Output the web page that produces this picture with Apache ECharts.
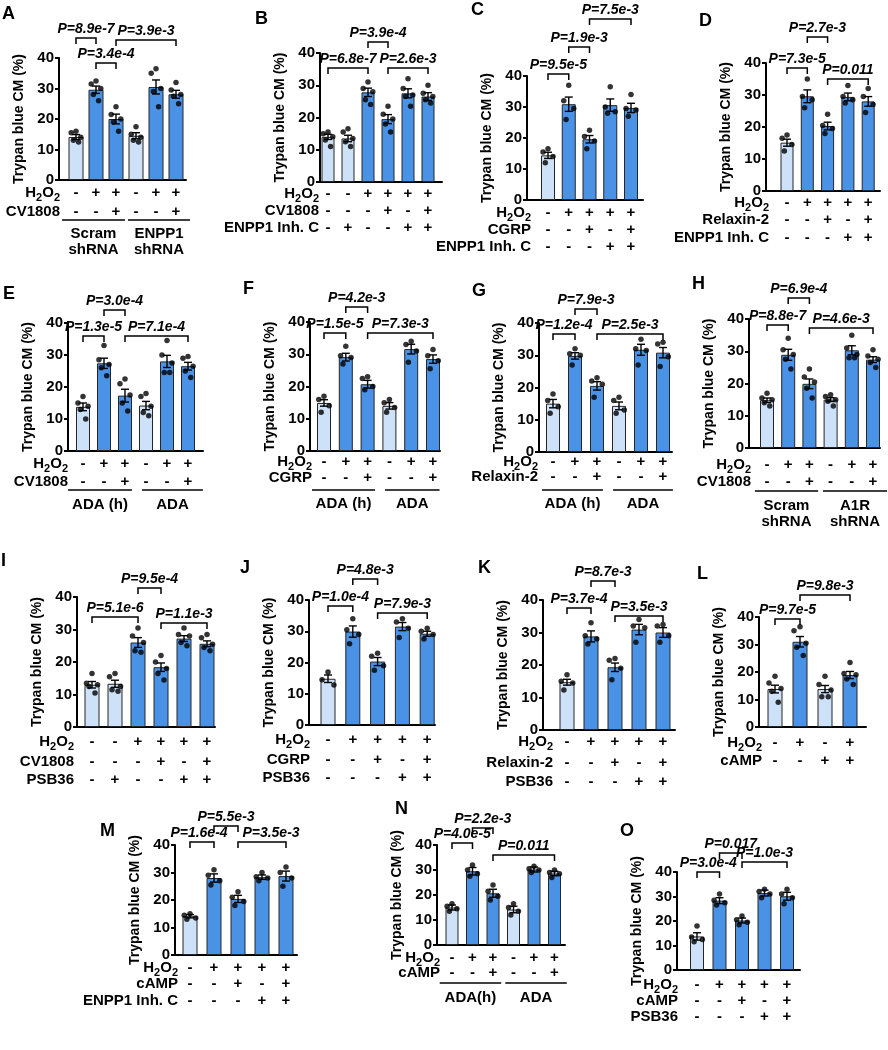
<!DOCTYPE html>
<html><head><meta charset="utf-8">
<script src="https://cdn.jsdelivr.net/npm/echarts@6/dist/echarts.min.js"></script>
<style>html,body{margin:0;padding:0;background:#fff}#c{width:888px;height:1050px}</style>
</head><body><div id="c"></div>
<script>
// ---------------- DATA ----------------
const meanA = [14.1, 29.6, 20.0, 14.5, 30.5, 28.1];
const semA = [0.8, 1.2, 1.6, 1.0, 2.3, 1.3];
const dotsA = [[16,15.5,14,13,12.5],[32.5,31.5,30,28,26],[24,21.5,20,19,16],[17.5,15,14,13,12.5],[36.5,35,30,29,24],[32,29.5,28,27.5,25]];
const rowNamesA = ['H2O2','CV1808'];
const rowsA = [['-','+','+','-','+','+'],['-','-','+','-','-','+']];
const brA = [[0,1,'P=8.9e-7'],[1,2,'P=3.4e-4'],[2,5,'P=3.9e-3']];
const groupsA = ['Scram\nshRNA','ENPP1\nshRNA'];

const meanB = [14.0, 13.5, 27.8, 19.5, 27.5, 26.5];
const semB = [0.8, 1.0, 1.3, 1.4, 1.4, 1.2];
const dotsB = [[15.5,15,14,13,11],[16.5,15.5,13.5,12.5,11],[31,29,28,25.5,24],[23.5,21,19.5,18,15.5],[32,29,27,26.5,23.5],[30,27.5,26.5,25.5,24.5]];
const rowNamesB = ['H2O2','CV1808','ENPP1 Inh. C'];
const rowsB = [['-','-','+','+','+','+'],['-','-','-','+','-','+'],['-','+','-','-','+','+']];
const brB = [[0,2,'P=6.8e-7'],[2,3,'P=3.9e-4'],[3,5,'P=2.6e-3']];

const meanC = [14.4, 30.9, 19.6, 30.6, 29.7];
const semC = [1.0, 2.3, 1.2, 2.0, 1.5];
const dotsC = [[16.5,15.5,14,12],[37,32,29.5,26],[22.5,20.5,19,16.5],[36.5,30,28.5,28],[34,29.5,29,27]];
const rowNamesC = ['H2O2','CGRP','ENPP1 Inh. C'];
const rowsC = [['-','+','+','+','+'],['-','-','+','-','+'],['-','-','-','+','+']];
const brC = [[0,1,'P=9.5e-5'],[1,2,'P=1.9e-3'],[2,4,'P=7.5e-3']];

const meanD = [15.1, 29.6, 20.3, 29.4, 28.0];
const semD = [1.1, 2.0, 1.2, 1.2, 1.5];
const dotsD = [[17.5,16.5,14.5,12.5],[35,29.5,28.5,26],[24,20.5,19.5,18],[33,29.5,28.5,27.5],[32,29.5,27,24.5]];
const rowNamesD = ['H2O2','Relaxin-2','ENPP1 Inh. C'];
const rowsD = [['-','+','+','+','+'],['-','-','+','-','+'],['-','-','-','+','+']];
const brD = [[0,1,'P=7.3e-5'],[1,2,'P=2.7e-3'],[2,4,'P=0.011']];

const meanE = [13.8, 27.4, 17.3, 14.2, 28.0, 26.5];
const semE = [1.2, 1.6, 2.0, 1.3, 1.9, 1.2];
const dotsE = [[17,15,14,13,10],[33,28.5,27,26,23.5],[22.5,21,17.5,15,12.5],[18,17,14,12,11],[34.5,30,27.5,24.5,24.5],[29.5,29,26.5,25,23]];
const rowNamesE = ['H2O2','CV1808'];
const rowsE = [['-','+','+','-','+','+'],['-','-','+','-','-','+']];
const brE = [[0,1,'P=1.3e-5'],[1,2,'P=3.0e-4'],[2,5,'P=7.1e-4']];
const groupsE = ['ADA (h)','ADA'];

const meanF = [14.9, 29.1, 20.7, 14.0, 31.6, 28.5];
const semF = [1.0, 1.2, 1.2, 1.0, 1.5, 1.3];
const dotsF = [[17,16,14,12],[32.5,29.5,29,27],[23,22.5,20,19],[16,15,13.5,12],[34,33,31,27.5],[31.5,29.5,28,25.5]];
const rowNamesF = ['H2O2','CGRP'];
const rowsF = [['-','+','+','-','+','+'],['-','-','+','-','-','+']];
const brF = [[0,1,'P=1.5e-5'],[1,2,'P=4.2e-3'],[2,5,'P=7.3e-3']];
const groupsF = ['ADA (h)','ADA'];

const meanG = [15.0, 29.8, 20.5, 14.3, 31.7, 30.8];
const semG = [1.3, 1.0, 1.3, 1.2, 1.7, 1.6];
const dotsG = [[18,16,14,12],[32,30.5,30,27],[23,22,21,17],[17,16,13,12],[35,32,31.5,27],[34,33.5,29.5,26.5]];
const rowNamesG = ['H2O2','Relaxin-2'];
const rowsG = [['-','+','+','-','+','+'],['-','-','+','-','-','+']];
const brG = [[0,1,'P=1.2e-4'],[1,2,'P=7.9e-3'],[2,5,'P=2.5e-3']];
const groupsG = ['ADA (h)','ADA'];

const meanH = [14.8, 28.9, 19.9, 15.0, 30.3, 27.4];
const semH = [0.7, 1.7, 1.5, 0.6, 1.4, 0.9];
const dotsH = [[17,15.5,15,14,13],[34,30.5,29,27.5,24.5],[24.5,22,20.5,18.5,15.5],[16.5,16,15,14.5,13],[35,31,29,28,28],[30.5,28.5,27.5,26.5,25]];
const rowNamesH = ['H2O2','CV1808'];
const rowsH = [['-','+','+','-','+','+'],['-','-','+','-','-','+']];
const brH = [[0,1,'P=8.8e-7'],[1,2,'P=6.9e-4'],[2,5,'P=4.6e-3']];
const groupsH = ['Scram\nshRNA','A1R\nshRNA'];

const meanI = [13.0, 13.3, 26.0, 18.4, 27.2, 25.6];
const semI = [1.0, 1.1, 1.5, 1.3, 0.9, 0.9];
const dotsI = [[16.5,13.5,13,12.5,10.5],[16.5,15.5,12.5,11.5,11],[30.5,28,26,23.5,23],[22,20,18,16.5,14.5],[30.5,28.5,28,26,25],[28.5,27.5,25.5,24.5,23.5]];
const rowNamesI = ['H2O2','CV1808','PSB36'];
const rowsI = [['-','-','+','+','+','+'],['-','-','-','+','-','+'],['-','+','-','-','+','+']];
const brI = [[0,2,'P=5.1e-6'],[2,3,'P=9.5e-4'],[3,5,'P=1.1e-3']];

const meanJ = [14.8, 29.9, 20.3, 31.5, 29.2];
const semJ = [1.2, 1.8, 1.3, 1.3, 0.8];
const dotsJ = [[17,14.5,12.8],[34,30.5,29,26],[23,22,19,17.5],[34,33,31,28],[31,30,29,27.5]];
const rowNamesJ = ['H2O2','CGRP','PSB36'];
const rowsJ = [['-','+','+','+','+'],['-','-','+','-','+'],['-','-','-','+','+']];
const brJ = [[0,1,'P=1.0e-4'],[1,2,'P=4.8e-3'],[2,4,'P=7.9e-3']];

const meanK = [14.7, 28.8, 19.3, 30.9, 30.0];
const semK = [0.9, 1.7, 1.3, 1.6, 1.5];
const dotsK = [[17,15,14.5,12.3],[33,29,28,26.5],[22,21.5,19,15.5],[34,32,31.5,27],[32.5,32,29,27]];
const rowNamesK = ['H2O2','Relaxin-2','PSB36'];
const rowsK = [['-','+','+','+','+'],['-','-','+','-','+'],['-','-','-','+','+']];
const brK = [[0,1,'P=3.7e-4'],[1,2,'P=8.7e-3'],[2,4,'P=3.5e-3']];

const meanL = [13.8, 31.0, 13.8, 18.9];
const semL = [1.4, 1.9, 1.3, 1.3];
const dotsL = [[18.5,16,14,13,9],[36.5,35,30.5,29,26],[18.5,15.5,13.5,11,11],[23.5,19.5,19,17.5,15.5]];
const rowNamesL = ['H2O2','cAMP'];
const rowsL = [['-','+','-','+'],['-','-','+','+']];
const brL = [[0,1,'P=9.7e-5'],[1,3,'P=9.8e-3']];

const meanM = [14.1, 28.0, 20.4, 28.3, 28.7];
const semM = [0.6, 1.5, 1.3, 0.8, 1.8];
const dotsM = [[15,14.5,13.5,13],[31,29,27,25.5],[23,21,19.5,18],[30,28.5,28,27],[32,30,28,25]];
const rowNamesM = ['H2O2','cAMP','ENPP1 Inh. C'];
const rowsM = [['-','+','+','+','+'],['-','-','+','-','+'],['-','-','-','+','+']];
const brM = [[0,1,'P=1.6e-4'],[1,2,'P=5.5e-3'],[2,4,'P=3.5e-3']];

const meanN = [15.0, 29.5, 20.7, 14.2, 30.2, 28.6];
const semN = [1.0, 1.5, 1.6, 1.3, 1.0, 0.9];
const dotsN = [[16.5,15.5,14.5,13.5],[32,30,28.5,27.5],[24,21.5,19.5,18],[16.5,15,13.5,12],[31.5,30.5,30,29],[30,29,28.5,27]];
const rowNamesN = ['H2O2','cAMP'];
const rowsN = [['-','+','+','-','+','+'],['-','-','+','-','-','+']];
const brN = [[0,1,'P=4.0e-5'],[1,2,'P=2.2e-3'],[2,5,'P=0.011']];
const groupsN = ['ADA(h)','ADA'];

const meanO = [13.7, 28.3, 20.2, 31.4, 30.1];
const semO = [1.5, 1.2, 1.0, 1.2, 1.6];
const dotsO = [[18,13.5,12.5,11.5],[31,28.5,27.5,26.5],[22,20.5,19.5,18.5],[33,32,31,29.5],[33,31,29.5,27]];
const rowNamesO = ['H2O2','cAMP','PSB36'];
const rowsO = [['-','+','+','+','+'],['-','-','+','-','+'],['-','-','-','+','+']];
const brO = [[0,1,'P=3.0e-4'],[1,2,'P=0.017'],[2,4,'P=1.0e-3']];

// ---------------- LAYOUT (pixels) ----------------
const layA = {x0:59,x1:186,c0:76,step:20,y40:58,y0:180,bw:15,letter:[2,5],rowY:[193,212],labelR:60,brY:[38,63,40],grpY:220,grpExt:[[-0.7,2.45],[2.6,5.7]],grpLabelY:226};
const layB = {x0:320,x1:442,c0:328,step:20,y40:53,y0:182,bw:13,letter:[255,10],rowY:[194,211,228],labelR:319,brY:[68,42,68]};
const layC = {x0:527,x1:643,c0:548,step:20.75,y40:76,y0:200,bw:14,letter:[471,1],rowY:[213,230,247],labelR:531,brY:[74,47,19]};
const layD = {x0:766,x1:880,c0:787,step:20.3,y40:63,y0:191,bw:13,letter:[699,12],rowY:[203,220,238],labelR:769,brY:[68,37,79]};
const layE = {x0:68,x1:203,c0:83,step:21,y40:323,y0:451,bw:14,letter:[3,285],rowY:[464,482],labelR:68,brY:[336,310,336],grpY:490,grpExt:[[-0.71,2.33],[2.81,5.71]],grpLabelY:497};
const layF = {x0:310,x1:440,c0:324,step:21.8,y40:322,y0:451,bw:14,letter:[243,280],rowY:[462,478],labelR:312,brY:[333,307,333],grpY:490,grpExt:[[-0.55,2.34],[2.8,5.3]],grpLabelY:496};
const layG = {x0:539,x1:672,c0:553,step:22,y40:323,y0:452,bw:14,letter:[472,282],rowY:[462,477],labelR:538,brY:[334,309,334],grpY:490,grpExt:[[-0.5,2.27],[2.73,5.45]],grpLabelY:496};
const layH = {x0:749,x1:880,c0:767,step:21.2,y40:319,y0:448,bw:14,letter:[692,275],rowY:[465,482],labelR:751,brY:[325,298,328],grpY:491,grpExt:[[-0.57,2.41],[2.64,5.66]],grpLabelY:498};
const layI = {x0:77,x1:215,c0:92,step:23,y40:597,y0:727,bw:15,letter:[1,552],rowY:[742,762,780],labelR:74,brY:[617,588,623]};
const layJ = {x0:309,x1:435,c0:328,step:24.8,y40:600,y0:725,bw:15,letter:[240,559],rowY:[740,760,778],labelR:310,brY:[606,579,613]};
const layK = {x0:543,x1:675,c0:567,step:24,y40:600,y0:730,bw:15,letter:[478,559],rowY:[742,763,782],labelR:553,brY:[608,581,616]};
const layL = {x0:759,x1:866,c0:775,step:25,y40:617,y0:727,bw:15,letter:[697,565],rowY:[743,761],labelR:762,brY:[619,595]};
const layM = {x0:175,x1:297,c0:190,step:24,y40:845,y0:955,bw:15,letter:[100,822],rowY:[968,984,1001],labelR:178,brY:[842,826,842],brDx:[-3,0,9]};
const layN = {x0:437,x1:565,c0:452,step:20.5,y40:845,y0:945,bw:13,letter:[395,800],rowY:[958,973],labelR:440,brY:[843,828,855],grpY:983,grpExt:[[-0.6,2.4],[2.6,5.6]],grpLabelY:990};
const layO = {x0:677,x1:800,c0:697,step:22.5,y40:872,y0:970,bw:14,letter:[620,822],rowY:[985,1001,1017],labelR:678,brY:[872,853,862]};

const panels = [
  {id:'A',mean:meanA,sem:semA,dots:dotsA,rowNames:rowNamesA,rows:rowsA,br:brA,groups:groupsA,L:layA},
  {id:'B',mean:meanB,sem:semB,dots:dotsB,rowNames:rowNamesB,rows:rowsB,br:brB,L:layB},
  {id:'C',mean:meanC,sem:semC,dots:dotsC,rowNames:rowNamesC,rows:rowsC,br:brC,L:layC},
  {id:'D',mean:meanD,sem:semD,dots:dotsD,rowNames:rowNamesD,rows:rowsD,br:brD,L:layD},
  {id:'E',mean:meanE,sem:semE,dots:dotsE,rowNames:rowNamesE,rows:rowsE,br:brE,groups:groupsE,L:layE},
  {id:'F',mean:meanF,sem:semF,dots:dotsF,rowNames:rowNamesF,rows:rowsF,br:brF,groups:groupsF,L:layF},
  {id:'G',mean:meanG,sem:semG,dots:dotsG,rowNames:rowNamesG,rows:rowsG,br:brG,groups:groupsG,L:layG},
  {id:'H',mean:meanH,sem:semH,dots:dotsH,rowNames:rowNamesH,rows:rowsH,br:brH,groups:groupsH,L:layH},
  {id:'I',mean:meanI,sem:semI,dots:dotsI,rowNames:rowNamesI,rows:rowsI,br:brI,L:layI},
  {id:'J',mean:meanJ,sem:semJ,dots:dotsJ,rowNames:rowNamesJ,rows:rowsJ,br:brJ,L:layJ},
  {id:'K',mean:meanK,sem:semK,dots:dotsK,rowNames:rowNamesK,rows:rowsK,br:brK,L:layK},
  {id:'L',mean:meanL,sem:semL,dots:dotsL,rowNames:rowNamesL,rows:rowsL,br:brL,L:layL},
  {id:'M',mean:meanM,sem:semM,dots:dotsM,rowNames:rowNamesM,rows:rowsM,br:brM,L:layM},
  {id:'N',mean:meanN,sem:semN,dots:dotsN,rowNames:rowNamesN,rows:rowsN,br:brN,groups:groupsN,L:layN},
  {id:'O',mean:meanO,sem:semO,dots:dotsO,rowNames:rowNamesO,rows:rowsO,br:brO,L:layO}
];

// ---------------- STYLE ----------------
const FONT = '"Liberation Sans", Arial, sans-serif';
const LIGHT = '#cde1f8', DARK = '#4a92e6', EDGE = '#262626';
const JIT = [0, -0.24, 0.24, -0.13, 0.13];
const BIG = 'bold 15px ' + FONT, SMALL = 'bold 11px ' + FONT;
const mctx = document.createElement('canvas').getContext('2d');
function tw(s, font) { mctx.font = font; return mctx.measureText(s).width; }

// "H2O2" with subscripts, right-aligned at xRight
function h2o2(xRight, y) {
  const parts = [['H', BIG, 0], ['2', SMALL, 5], ['O', BIG, 0], ['2', SMALL, 5]];
  const total = parts.reduce((a, p) => a + tw(p[0], p[1]), 0);
  let x = xRight - total;
  const children = parts.map(p => {
    const el = {type:'text', x:x, y:y + p[2], style:{text:p[0], font:p[1], fill:'#000', align:'left', verticalAlign:'middle'}};
    x += tw(p[0], p[1]);
    return el;
  });
  return {type:'group', children:children};
}
function labelText(name, x, y) {
  if (name === 'H2O2') return h2o2(x, y);
  return {type:'text', x:x, y:y, style:{text:name, fill:'#000', font:BIG, align:'right', verticalAlign:'middle'}};
}

const option = {animation:false, backgroundColor:'#fff', title:[], grid:[], xAxis:[], yAxis:[], series:[]};

panels.forEach((p, k) => {
  const L = p.L;
  option.title.push({text:p.id, left:L.letter[0], top:L.letter[1], padding:0,
    textStyle:{fontFamily:FONT, fontWeight:'bold', fontSize:18, color:'#000'}});
  option.grid.push({left:L.x0, top:L.y40, width:L.x1 - L.x0, height:L.y0 - L.y40});
  option.xAxis.push({gridIndex:k, type:'value', min:(L.x0 - L.c0) / L.step, max:(L.x1 - L.c0) / L.step,
    axisLine:{show:true, onZero:false, lineStyle:{color:'#000', width:2}},
    axisTick:{show:false}, axisLabel:{show:false}, splitLine:{show:false}});
  option.yAxis.push({gridIndex:k, type:'value', min:0, max:40, interval:10,
    name:'Trypan blue CM (%)', nameLocation:'middle', nameGap:33,
    nameTextStyle:{fontFamily:FONT, fontWeight:'bold', fontSize:14, color:'#000'},
    axisLine:{show:true, onZero:false, lineStyle:{color:'#000', width:2}},
    axisTick:{show:true, length:4, lineStyle:{color:'#000', width:2}},
    axisLabel:{fontFamily:FONT, fontWeight:'bold', fontSize:15, color:'#000', margin:5},
    splitLine:{show:false}});

  const light = p.rows[0].map(s => s === '-');
  option.series.push({type:'bar', xAxisIndex:k, yAxisIndex:k, barWidth:L.bw, z:2,
    itemStyle:{borderColor:EDGE, borderWidth:1},
    data:p.mean.map((v, i) => ({value:[i, v], itemStyle:{color: light[i] ? LIGHT : DARK}}))});

  // error bars (SEM)
  option.series.push({type:'custom', xAxisIndex:k, yAxisIndex:k, z:3,
    data:p.mean.map((v, i) => [i, v - p.sem[i], v + p.sem[i]]),
    renderItem:(params, api) => {
      const lo = api.coord([api.value(0), api.value(1)]);
      const hi = api.coord([api.value(0), api.value(2)]);
      const w = 4, st = {stroke:'#000', lineWidth:1.4};
      return {type:'group', children:[
        {type:'line', shape:{x1:lo[0], y1:lo[1], x2:hi[0], y2:hi[1]}, style:st},
        {type:'line', shape:{x1:lo[0]-w, y1:lo[1], x2:lo[0]+w, y2:lo[1]}, style:st},
        {type:'line', shape:{x1:hi[0]-w, y1:hi[1], x2:hi[0]+w, y2:hi[1]}, style:st}
      ]};
    }});

  // individual points
  const pts = [];
  p.dots.forEach((arr, i) => arr.forEach((v, j) => pts.push([i + JIT[j % JIT.length], v])));
  option.series.push({type:'scatter', xAxisIndex:k, yAxisIndex:k, z:4, symbolSize:5.5,
    itemStyle:{color:'#000'}, data:pts});

  // significance brackets
  option.series.push({type:'custom', xAxisIndex:k, yAxisIndex:k, z:5,
    data:p.br.map((b, j) => [b[0], b[1], j]),
    renderItem:(params, api) => {
      const j = api.value(2);
      const xa = api.coord([api.value(0), 0])[0], xb = api.coord([api.value(1), 0])[0];
      const y = L.brY[j];
      const dx = L.brDx ? L.brDx[j] : 0;
      return {type:'group', children:[
        {type:'polyline', shape:{points:[[xa, y+6],[xa, y],[xb, y],[xb, y+6]]}, style:{stroke:'#000', lineWidth:1.5, fill:null}},
        {type:'text', x:(xa + xb) / 2 + dx, y:y - 2, style:{text:p.br[j][2], fill:'#000',
          font:'italic bold 14px ' + FONT, align:'center', verticalAlign:'bottom'}}
      ]};
    }});

  // treatment table (+/-)
  const cells = [];
  p.rows.forEach((row, r) => row.forEach((s, i) => cells.push([i, r])));
  option.series.push({type:'custom', xAxisIndex:k, yAxisIndex:k, z:5, data:cells,
    renderItem:(params, api) => {
      const i = api.value(0), r = api.value(1);
      const x = api.coord([i, 0])[0];
      return {type:'text', x:x, y:L.rowY[r], style:{text:p.rows[r][i], fill:'#000',
        font:BIG, align:'center', verticalAlign:'middle'}};
    }});
  // row labels
  option.series.push({type:'custom', xAxisIndex:k, yAxisIndex:k, z:5,
    data:p.rowNames.map((n, r) => [0, r]),
    renderItem:(params, api) => labelText(p.rowNames[api.value(1)], L.labelR, L.rowY[api.value(1)])});

  // group underline + labels
  if (p.groups) {
    option.series.push({type:'custom', xAxisIndex:k, yAxisIndex:k, z:5,
      data:p.groups.map((g, j) => [j, 0]),
      renderItem:(params, api) => {
        const j = api.value(0), e = L.grpExt[j];
        const xa = api.coord([e[0], 0])[0], xb = api.coord([e[1], 0])[0];
        return {type:'group', children:[
          {type:'line', shape:{x1:xa, y1:L.grpY, x2:xb, y2:L.grpY}, style:{stroke:'#000', lineWidth:1.5}},
          {type:'text', x:(xa + xb) / 2, y:L.grpLabelY, style:{text:p.groups[j], fill:'#000',
            font:BIG, lineHeight:16, align:'center', verticalAlign:'top'}}
        ]};
      }});
  }
});

const chart = echarts.init(document.getElementById('c'), null, {renderer:'canvas', width:888, height:1050});
chart.setOption(option);
</script></body></html>
